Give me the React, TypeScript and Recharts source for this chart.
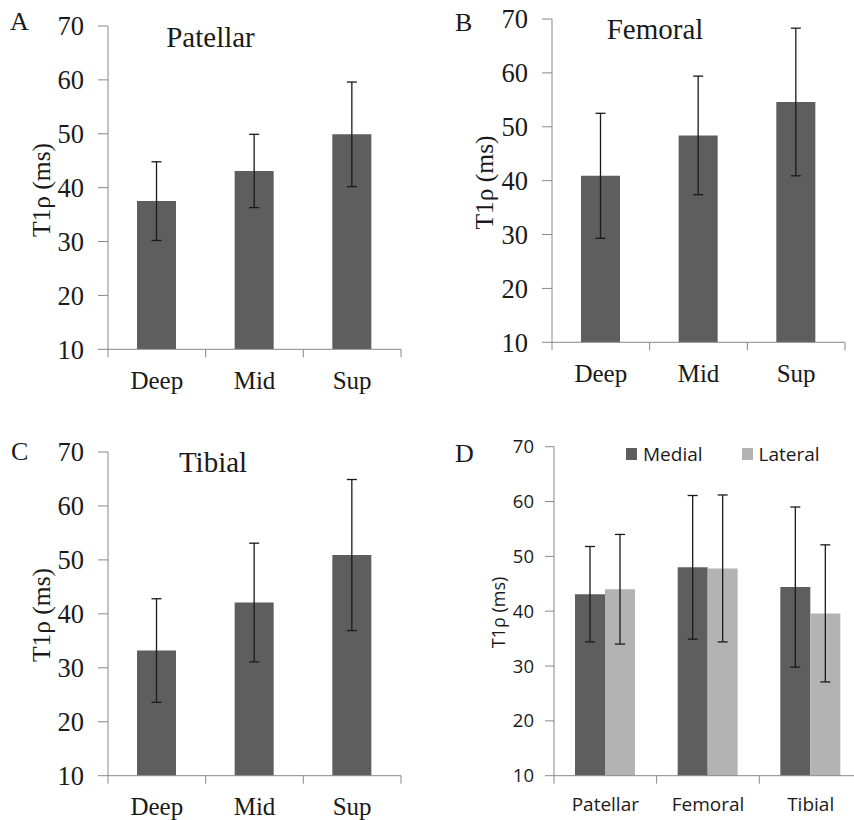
import React from 'react';
import { BarChart, Bar, XAxis, YAxis, ErrorBar, Legend } from 'recharts';

const layers = ['Deep', 'Mid', 'Sup'];
const patellarMean = [37.5, 43.1, 49.9];
const patellarSd = [7.3, 6.8, 9.7];
const femoralMean = [40.9, 48.4, 54.6];
const femoralSd = [11.6, 11.0, 13.7];
const tibialMean = [33.2, 42.1, 50.9];
const tibialSd = [9.6, 11.0, 14.0];

const compartments = ['Patellar', 'Femoral', 'Tibial'];
const seriesNames = ['Medial', 'Lateral'];
const medialMean = [43.1, 48.0, 44.4];
const medialSd = [8.7, 13.1, 14.6];
const lateralMean = [44.0, 47.8, 39.6];
const lateralSd = [10.0, 13.4, 12.5];

const yTicks = [10, 20, 30, 40, 50, 60, 70];

const SERIF = '"Liberation Serif", "Times New Roman", serif';
const SANS = '"Open Sans", "Noto Sans", sans-serif';
const AXIS = '#888888';
const DARK = '#5e5e5e';
const LIGHT = '#b3b3b3';
const INK = '#1a1a1a';

const buildLayer = (means: number[], sds: number[]) =>
  layers.map((name, i) => ({ name, mean: means[i], sd: sds[i] }));

const compData = compartments.map((name, i) => ({
  name,
  medial: medialMean[i],
  medialSd: medialSd[i],
  lateral: lateralMean[i],
  lateralSd: lateralSd[i],
}));

const CatTick = (props: any) => {
  const { x, y, payload, index, visibleTicksCount, width, font, size, baseline, tickLen } = props;
  const half = typeof payload?.offset === 'number' && payload.offset > 0 ? payload.offset : width / (2 * visibleTicksCount);
  return (
    <g>
      <line x1={x - half} x2={x - half} y1={y} y2={y + tickLen} stroke={AXIS} strokeWidth={1} />
      {index === visibleTicksCount - 1 && (
        <line x1={x + half} x2={x + half} y1={y} y2={y + tickLen} stroke={AXIS} strokeWidth={1} />
      )}
      <text x={x} y={y + baseline} textAnchor="middle" fontFamily={font} fontSize={size} fill={INK}>
        {payload.value}
      </text>
    </g>
  );
};

type LayerProps = {
  data: any[];
  plotLeft: number;
  plotTop: number;
  plotW: number;
  plotH: number;
};

const LayerChart = ({ data, plotLeft, plotTop, plotW, plotH }: LayerProps) => (
  <BarChart
    width={427}
    height={410}
    data={data}
    margin={{ top: plotTop, right: 427 - plotLeft - plotW, left: 0, bottom: 0 }}
  >
    <XAxis
      dataKey="name"
      height={410 - plotTop - plotH}
      axisLine={{ stroke: AXIS }}
      tickLine={false}
      tickSize={0}
      tickMargin={0}
      interval={0}
      tick={(p: any) => <CatTick {...p} font={SERIF} size={25} baseline={39.5} tickLen={8} />}
    />
    <YAxis
      type="number"
      domain={[10, 70]}
      ticks={yTicks}
      interval={0}
      width={plotLeft}
      allowDataOverflow
      axisLine={{ stroke: AXIS }}
      tickLine={{ stroke: AXIS }}
      tickSize={10}
      tickMargin={14}
      tick={{ fontFamily: SERIF, fontSize: 26.5, fill: INK }}
    />
    <Bar dataKey="mean" fill={DARK} barSize={39} isAnimationActive={false}>
      <ErrorBar dataKey="sd" width={5} stroke={INK} strokeWidth={1.3} direction="y" />
    </Bar>
  </BarChart>
);

const LegendContent = (props: any) => {
  const items = [...(props.payload || [])].sort(
    (a: any, b: any) => seriesNames.indexOf(a.value) - seriesNames.indexOf(b.value)
  );
  return (
    <div style={{ display: 'flex', alignItems: 'center', fontFamily: SANS, fontSize: 19, color: INK, lineHeight: '20px' }}>
      {items.map((e: any, i: number) => (
        <div key={i} style={{ display: 'flex', alignItems: 'center', marginRight: i === 0 ? 39 : 0 }}>
          <span style={{ display: 'inline-block', width: 11, height: 12, background: e.color, marginRight: 6 }} />
          <span>{e.value}</span>
        </div>
      ))}
    </div>
  );
};

const CompChart = () => (
  <BarChart
    width={440}
    height={410}
    data={compData}
    barGap={0}
    margin={{ top: 36.7, right: 5, left: 0, bottom: 0 }}
  >
    <XAxis
      dataKey="name"
      height={410 - 36.7 - 329}
      axisLine={{ stroke: AXIS }}
      tickLine={false}
      tickSize={0}
      tickMargin={0}
      interval={0}
      tick={(p: any) => <CatTick {...p} font={SANS} size={19} baseline={35} tickLen={8} />}
    />
    <YAxis
      type="number"
      domain={[10, 70]}
      ticks={yTicks}
      interval={0}
      width={127}
      allowDataOverflow
      axisLine={{ stroke: AXIS }}
      tickLine={{ stroke: AXIS }}
      tickSize={9}
      tickMargin={11}
      tick={{ fontFamily: SANS, fontSize: 18.5, fill: INK }}
    />
    <Legend
      layout="horizontal"
      verticalAlign="middle"
      align="center"
      wrapperStyle={{ top: 34, left: 199, width: 'auto' }}
      content={<LegendContent />}
    />
    <Bar dataKey="medial" name={seriesNames[0]} fill={DARK} barSize={30} isAnimationActive={false}>
      <ErrorBar dataKey="medialSd" width={5} stroke={INK} strokeWidth={1.3} direction="y" />
    </Bar>
    <Bar dataKey="lateral" name={seriesNames[1]} fill={LIGHT} barSize={30} isAnimationActive={false}>
      <ErrorBar dataKey="lateralSd" width={5} stroke={INK} strokeWidth={1.3} direction="y" />
    </Bar>
  </BarChart>
);

const panel = (left: number, top: number, w: number): React.CSSProperties => ({
  position: 'absolute',
  left,
  top,
  width: w,
  height: 410,
});

export default function App() {
  return (
    <div
      style={{
        position: 'absolute',
        left: 0,
        top: 0,
        width: 854,
        height: 820,
        overflow: 'hidden',
        background: '#ffffff',
      }}
    >
      <div style={panel(0, 0, 427)}>
        <LayerChart data={buildLayer(patellarMean, patellarSd)} plotLeft={108} plotTop={26} plotW={293} plotH={323.3} />
      </div>
      <div style={panel(427, 0, 427)}>
        <LayerChart data={buildLayer(femoralMean, femoralSd)} plotLeft={125} plotTop={19} plotW={293} plotH={323.3} />
      </div>
      <div style={panel(0, 410, 427)}>
        <LayerChart data={buildLayer(tibialMean, tibialSd)} plotLeft={108} plotTop={42} plotW={293} plotH={323.7} />
      </div>
      <div style={{ ...panel(427, 410, 440) }}>
        <CompChart />
      </div>
      <svg
        width={854}
        height={820}
        style={{ position: 'absolute', left: 0, top: 0, pointerEvents: 'none' }}
      >
        <g fontFamily={SERIF} fill={INK}>
          <text x={10} y={30} fontSize={26}>A</text>
          <text x={210.5} y={46.5} fontSize={29} textAnchor="middle">Patellar</text>
          <text x={41} y={190} fontSize={25.5} textAnchor="middle" dominantBaseline="central" transform="rotate(-90 41 190)">T1ρ (ms)</text>

          <text x={455} y={30.5} fontSize={26}>B</text>
          <text x={655} y={39.3} fontSize={29} textAnchor="middle">Femoral</text>
          <text x={484} y={182.5} fontSize={25.5} textAnchor="middle" dominantBaseline="central" transform="rotate(-90 484 182.5)">T1ρ (ms)</text>

          <text x={11} y={460} fontSize={26}>C</text>
          <text x={213} y={471.7} fontSize={29} textAnchor="middle">Tibial</text>
          <text x={41} y={615} fontSize={25.5} textAnchor="middle" dominantBaseline="central" transform="rotate(-90 41 615)">T1ρ (ms)</text>

          <text x={455} y={461.7} fontSize={26}>D</text>
        </g>
        <text x={498} y={612.5} fontSize={18} fontFamily={SANS} fill={INK} textAnchor="middle" dominantBaseline="central" transform="rotate(-90 498 612.5)">T1ρ (ms)</text>
      </svg>
    </div>
  );
}
